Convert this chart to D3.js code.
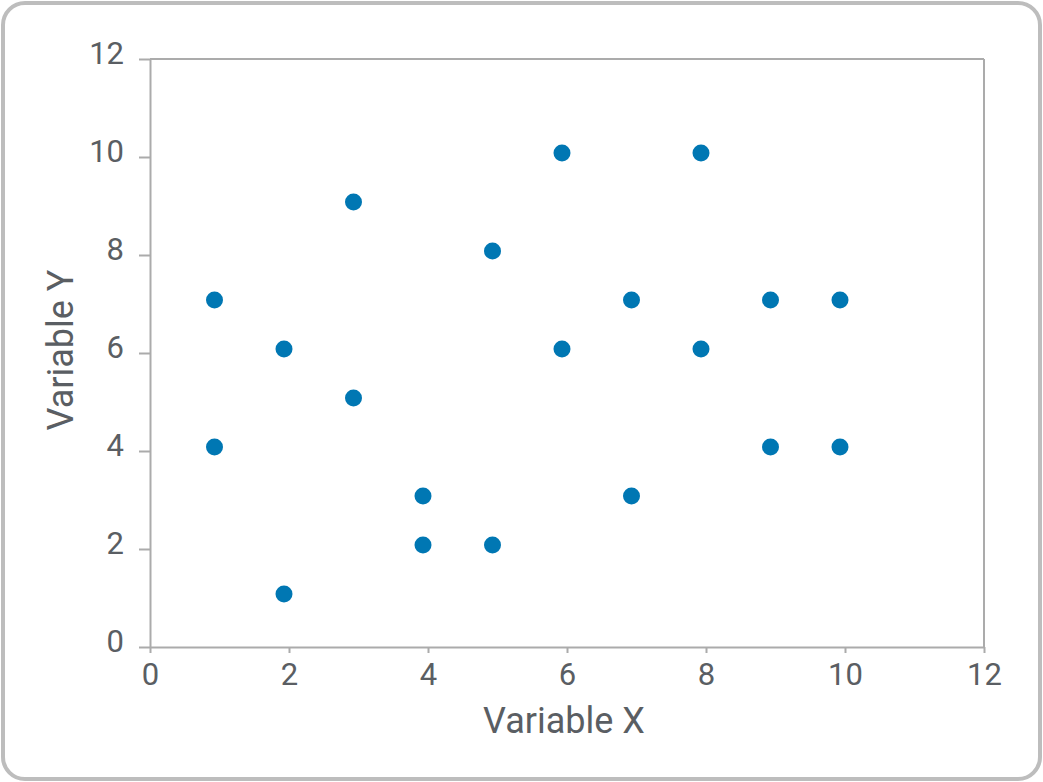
<!DOCTYPE html>
<html><head><meta charset="utf-8">
<script src="https://cdn.jsdelivr.net/npm/d3@7"></script>
<style>html,body{margin:0;padding:0;background:#fff;}svg{display:block;}</style>
</head><body>
<svg id="c" width="1043" height="782"></svg>
<script>
const xValues = [1,1,2,2,3,3,4,4,5,5,6,6,7,7,8,8,9,9,10,10];
const yValues = [7,4,6,1,9,5,3,2,8,2,10,6,7,3,10,6,7,4,7,4];
const xTicks = [0,2,4,6,8,10,12];
const yTicks = [0,2,4,6,8,10,12];
const xTitle = "Variable X";
const yTitle = "Variable Y";

const svg = d3.select("#c");
const W = 1043, H = 782;
svg.append("rect").attr("x",3).attr("y",3).attr("width",W-6).attr("height",H-6)
  .attr("rx",22).attr("fill","#fff").attr("stroke","#bdbdbd").attr("stroke-width",4);

const m = {l:150, r:984, t:59, b:647};
const x = d3.scaleLinear().domain([0,12]).range([m.l,m.r]);
const y = d3.scaleLinear().domain([0,12]).range([m.b,m.t]);
const axisColor = "#ababab", textColor = "#5a5e63", font = "Roboto, sans-serif";

svg.append("line").attr("x1",m.l).attr("x2",m.r).attr("y1",m.t).attr("y2",m.t).attr("stroke",axisColor).attr("stroke-width",2);
svg.append("line").attr("x1",m.r).attr("x2",m.r).attr("y1",m.t).attr("y2",m.b).attr("stroke",axisColor).attr("stroke-width",2);

const gx = svg.append("g").attr("transform",`translate(0,${m.b})`)
  .call(d3.axisBottom(x).tickValues(xTicks).tickSize(6).tickPadding(10).tickSizeOuter(0));
const gy = svg.append("g").attr("transform",`translate(${m.l},0)`)
  .call(d3.axisLeft(y).tickValues(yTicks).tickSize(11).tickPadding(15).tickSizeOuter(0));
[gx,gy].forEach(g=>{
  g.select(".domain").attr("stroke",axisColor).attr("stroke-width",2);
  g.selectAll(".tick line").attr("stroke",axisColor).attr("stroke-width",2);
  g.selectAll(".tick text").attr("fill",textColor).attr("font-family",font).attr("font-size",31);
});
gy.selectAll(".tick text").attr("dy","0.15em");

const pts = xValues.map((v,i)=>({x:v,y:yValues[i]}));
svg.append("g").attr("transform","translate(-5,-4)").selectAll("circle").data(pts).join("circle")
  .attr("cx",d=>x(d.x)).attr("cy",d=>y(d.y)).attr("r",8.5).attr("fill","#0077b3");

svg.append("text").attr("x",564).attr("y",733).attr("text-anchor","middle")
  .attr("fill",textColor).attr("font-family",font).attr("font-size",36).text(xTitle);
svg.append("text").attr("transform",`translate(73,350) rotate(-90)`).attr("text-anchor","middle")
  .attr("fill",textColor).attr("font-family",font).attr("font-size",36).text(yTitle);
</script>
</body></html>
